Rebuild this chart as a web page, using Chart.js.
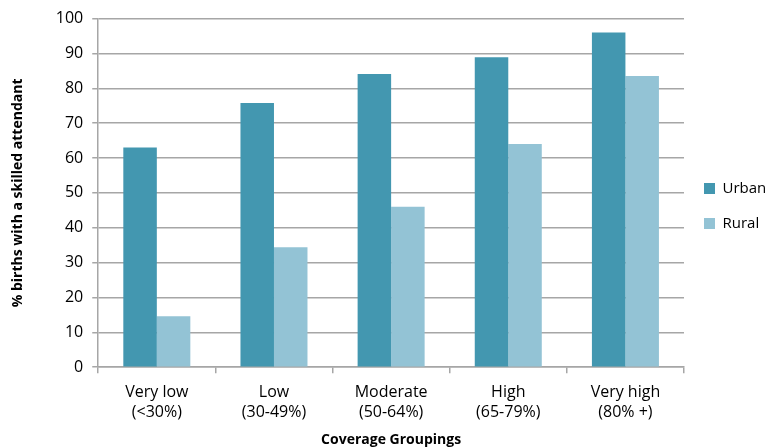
<!DOCTYPE html>
<html>
<head>
<meta charset="utf-8">
<script src="https://cdn.jsdelivr.net/npm/chart.js@4"></script>
<style>
  html, body { margin: 0; padding: 0; background: #fff; }
  #wrap { width: 771px; height: 448px; }
</style>
</head>
<body>
<div id="wrap"><canvas id="chart"></canvas></div>
<script>
var groupLabels = [
  ['Very low', '(<30%)'],
  ['Low', '(30-49%)'],
  ['Moderate', '(50-64%)'],
  ['High', '(65-79%)'],
  ['Very high', '(80% +)']
];
var urbanValues = [63, 75.8, 84.1, 88.9, 96];
var ruralValues = [14.6, 34.4, 46, 64, 83.5];

var fontFamily = "'Open Sans', 'Noto Sans', sans-serif";
var gridGrey = '#a6a6a6';

const data = {
  labels: groupLabels,
  datasets: [
    {
      label: 'Urban',
      backgroundColor: '#4397b0',
      borderColor: '#4397b0',
      data: urbanValues,
    },
    {
      label: 'Rural',
      backgroundColor: '#93c3d5',
      borderColor: '#93c3d5',
      data: ruralValues,
    }
  ]
};

const config = {
  type: 'bar',
  data: data,
  options: {
    responsive: true,
    maintainAspectRatio: false,
    animation: false,
    datasets: {
      bar: {
        categoryPercentage: 0.572,
        barPercentage: 1.0
      }
    },
    layout: {
      padding: { top: 15, right: 0, bottom: 0, left: 4 }
    },
    plugins: {
      tooltip: { enabled: false },
      legend: {
        position: 'right',
        align: 'start',
        maxWidth: 87,
        // empty title only used to push the items down to mid height
        title: {
          display: true,
          text: '',
          font: { size: 10 },
          padding: { top: 134, bottom: 0 }
        },
        labels: {
          boxWidth: 11,
          boxHeight: 11,
          padding: 20,
          color: '#000',
          font: { family: fontFamily, size: 15 }
        }
      }
    },
    scales: {
      x: {
        grid: {
          display: true,
          drawOnChartArea: false,
          offset: true,
          color: gridGrey,
          lineWidth: 1.5,
          tickLength: 6
        },
        border: { color: gridGrey, width: 1.5 },
        ticks: {
          color: '#000',
          maxRotation: 0,
          padding: 9,
          font: { family: fontFamily, size: 16, lineHeight: 1.25 }
        },
        title: {
          display: true,
          text: 'Coverage Groupings',
          color: '#000',
          padding: { top: 0, bottom: 0 },
          font: { family: fontFamily, size: 14, weight: 'bold' }
        }
      },
      y: {
        min: 0,
        max: 100,
        grid: {
          color: gridGrey,
          lineWidth: 1.5,
          tickLength: 6
        },
        border: { color: gridGrey, width: 1.5 },
        ticks: {
          stepSize: 10,
          color: '#000',
          padding: 9,
          font: { family: fontFamily, size: 16 }
        },
        title: {
          display: true,
          text: '% births with a skilled attendant',
          color: '#000',
          padding: { top: 6, bottom: 20 },
          font: { family: fontFamily, size: 14, weight: 'bold' }
        }
      }
    }
  }
};

var myChart = new Chart(document.getElementById('chart'), config);
</script>
</body>
</html>
